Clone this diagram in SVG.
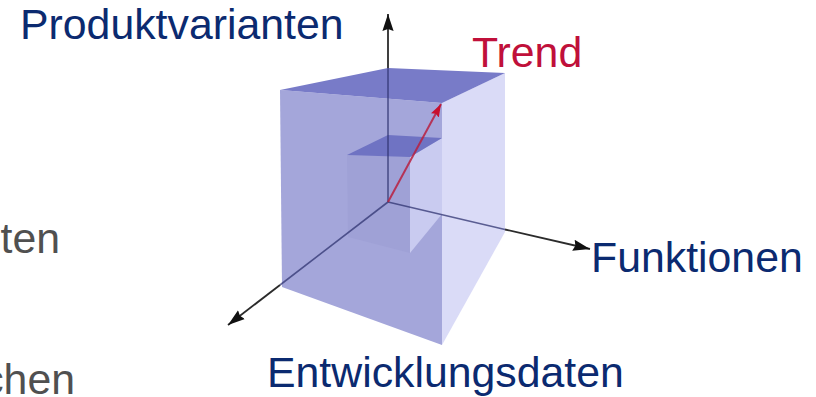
<svg xmlns="http://www.w3.org/2000/svg" width="816" height="397" viewBox="0 0 816 397">
  <style>
    .lbl { font-family: "Liberation Sans", Arial, sans-serif; font-size: 42.8px; }
    .blue { fill: #0b2a70; }
    .red { fill: #c0103a; }
    .gray { fill: #505050; }
    .ax { stroke: #2b2b2b; stroke-width: 1.8; fill: none; }
    .axin { stroke: #2f3370; stroke-width: 1.6; fill: none; stroke-opacity: 0.75; }
  </style>
  <defs>
    <marker id="ah" viewBox="-17 -6 18 12" refX="0" refY="0" markerWidth="18" markerHeight="12" markerUnits="userSpaceOnUse" orient="auto">
      <path d="M0,0 L-17,-5.6 L-15,0 L-17,5.6 z" fill="#111"/>
    </marker>
    <marker id="ahr" viewBox="-13 -5 14 10" refX="0" refY="0" markerWidth="14" markerHeight="10" markerUnits="userSpaceOnUse" orient="auto">
      <path d="M0,0 L-13,-4.5 L-11,0 L-13,4.5 z" fill="#c8102e"/>
    </marker>
  </defs>
  <rect width="816" height="397" fill="#ffffff"/>

  <g id="cube">
    <polygon points="280,90 442,103 442,345 282,287" fill="#a4a6da"/>
    <polygon points="442,103 505,73 505,232 442,345" fill="#dadbf7"/>
    <polygon points="280,90 388,68 505,73 442,103" fill="#787bc8"/>
    <polygon points="347,155 410,157 410,253 348,237" fill="#9fa1d6"/>
    <polygon points="410,157 442,138 442,214 410,253" fill="#c9cbf0"/>
    <polygon points="347,155 388,135 442,138 410,157" fill="#6f73c3"/>
  </g>

  <g id="connectors">
    <line class="axin" x1="388" y1="202" x2="388" y2="68"/>
    <line class="ax" x1="388" y1="68" x2="388" y2="14" marker-end="url(#ah)"/>
    <line class="axin" x1="388" y1="202" x2="505" y2="229.5"/>
    <line class="ax" x1="505" y1="229.5" x2="590" y2="249" marker-end="url(#ah)"/>
    <line class="axin" x1="388" y1="202" x2="280" y2="285"/>
    <line class="ax" x1="280" y1="285" x2="228" y2="325" marker-end="url(#ah)"/>
    <line x1="388" y1="202" x2="441" y2="104" stroke="#b8203f" stroke-width="2" stroke-opacity="0.85" marker-end="url(#ahr)"/>
  </g>

  <g id="labels">
    <text class="lbl blue" x="20" y="39">Produktvarianten</text>
    <text class="lbl red" x="472" y="67">Trend</text>
    <text class="lbl blue" x="591" y="272">Funktionen</text>
    <text class="lbl blue" x="267" y="387">Entwicklungsdaten</text>
    <text class="lbl gray" x="60" y="253" text-anchor="end">ten</text>
    <text class="lbl gray" x="75" y="394" text-anchor="end">chen</text>
  </g>
</svg>
